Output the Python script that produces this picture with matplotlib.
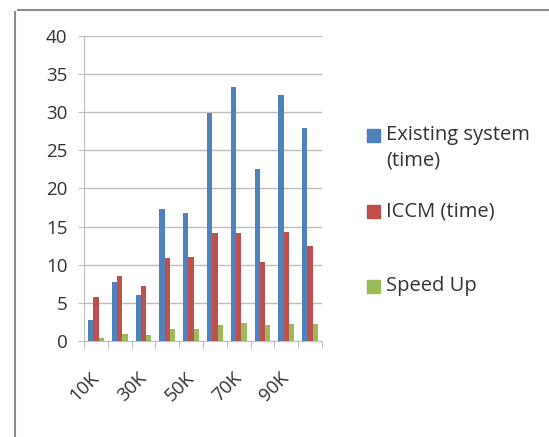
import numpy as np
import matplotlib.pyplot as plt
from matplotlib.lines import Line2D
from matplotlib.patches import Rectangle
from matplotlib.transforms import ScaledTranslation

# ======================
# data
# ======================
categories = ["10K", "20K", "30K", "40K", "50K", "60K", "70K", "80K", "90K", "100K"]
existing = [2.7, 7.7, 6.0, 17.3, 16.8, 29.9, 33.4, 22.6, 32.3, 28.0]
iccm = [5.7, 8.45, 7.2, 10.8, 11.0, 14.1, 14.2, 10.3, 14.3, 12.5]
speed_up = [0.3, 0.9, 0.7, 1.5, 1.5, 2.1, 2.3, 2.1, 2.2, 2.2]

series_names = ["Existing system\n(time)", "ICCM (time)", "Speed Up"]
series_colors = ["#4F81BD", "#C0504D", "#9BBB59"]
y_ticks = [0, 5, 10, 15, 20, 25, 30, 35, 40]

text_col = "#333333"
font = "Open Sans"

fig = plt.figure(figsize=(5.49, 4.37), dpi=100)
ax = fig.add_axes([0.153, 0.2208, 0.4335, 0.6957])

x = np.arange(len(categories))
width = 1 / 4.5
for k, vals in enumerate([existing, iccm, speed_up]):
    ax.bar(x + (k - 1) * width, vals, width=width, color=series_colors[k],
           zorder=3, linewidth=0)

ax.set_xlim(-0.5, len(categories) - 0.5)
ax.set_ylim(0, 40)
ax.set_yticks(y_ticks)
ax.set_yticklabels([str(v) for v in y_ticks], fontsize=13.5, color=text_col,
                   family=font)
ax.yaxis.grid(True, color="#BFBFBF", linewidth=1.0, zorder=0)

# tick marks between groups, labels on every other group
ax.set_xticks(np.arange(len(categories) + 1) - 0.5)
ax.set_xticklabels([])
ax.tick_params(axis="x", which="major", length=5, color="#BFBFBF")
ax.set_xticks(x[::2], minor=True)
labels = ax.set_xticklabels(categories[::2], minor=True, rotation=45, ha="right",
                            va="center", rotation_mode="anchor", fontsize=13.5,
                            color=text_col, family=font)
shift = ScaledTranslation(0.14, 0, fig.dpi_scale_trans)
for lab in labels:
    lab.set_transform(lab.get_transform() + shift)
ax.tick_params(axis="x", which="minor", length=0, pad=25)
ax.tick_params(axis="y", length=4, color="#BFBFBF", pad=8)

for s in ["top", "right"]:
    ax.spines[s].set_visible(False)
ax.spines["left"].set_color("#BFBFBF")
ax.spines["bottom"].set_color("#BFBFBF")

# legend (Excel-like spacing)
leg_y = [0.691, 0.517, 0.3455]
sq_w, sq_h = 13 / 549, 13 / 437
for name, col, yy in zip(series_names, series_colors, leg_y):
    fig.add_artist(Rectangle((0.669, yy - sq_h / 2), sq_w, sq_h,
                             transform=fig.transFigure, color=col))
    if "\n" in name:
        fig.text(0.703, yy + 0.022, name, fontsize=14.5, color=text_col,
                 family=font, va="top", linespacing=1.35)
    else:
        fig.text(0.703, yy, name, fontsize=14.5, color=text_col,
                 family=font, va="center")

# chart frame
fig.add_artist(Line2D([0.033, 1.0], [0.977, 0.977], color="#8C8C8C", lw=1.5))
fig.add_artist(Line2D([0.027, 0.027], [0.0, 0.972], color="#8C8C8C", lw=1.5))

plt.savefig("out.png", dpi=100)
